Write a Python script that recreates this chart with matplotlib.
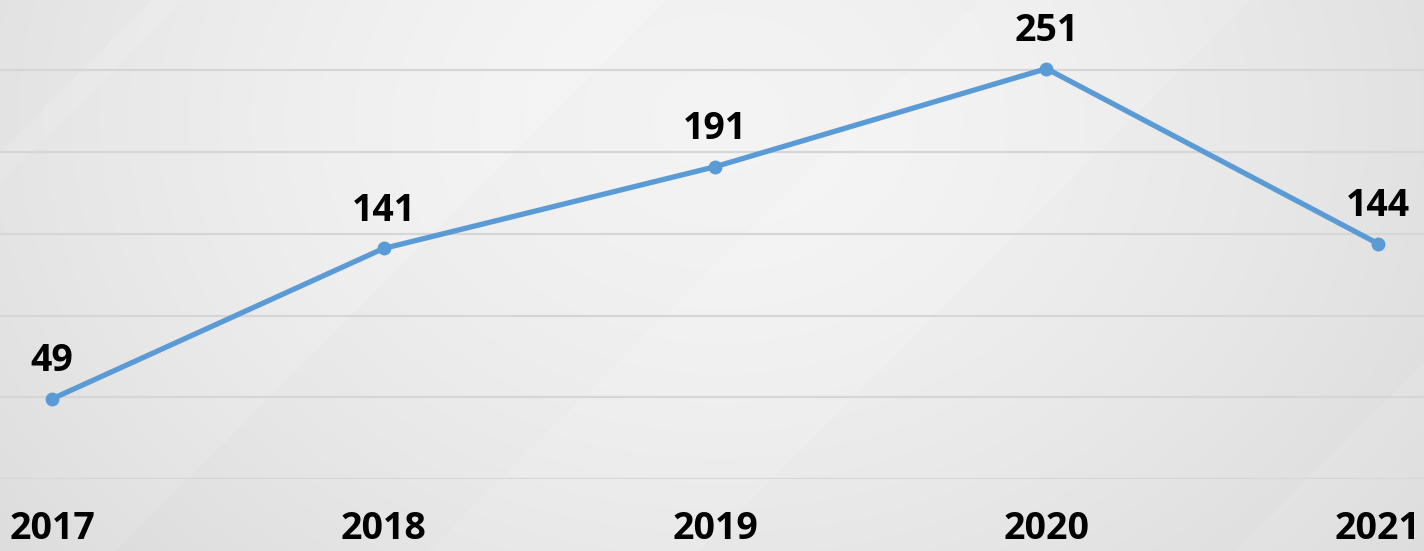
import numpy as np
import matplotlib.pyplot as plt

years = ['2017', '2018', '2019', '2020', '2021']
values = [49, 141, 191, 251, 144]
grid_levels = [0, 50, 100, 150, 200, 250]

W, H = 1424, 551
fig = plt.figure(figsize=(W / 100, H / 100), dpi=100)

# fondo gris con degradado y bandas diagonales
yy, xx = np.mgrid[0:H, 0:W]
r = np.sqrt(((xx - 720) / 900.0) ** 2 + ((yy - 120) / 700.0) ** 2)
fondo = 0.955 - 0.10 * np.clip(r, 0, 1) ** 1.5
d = (xx + yy) / 1.0
banda = 0.012 * (np.sin(d / 260.0) > 0.55) + 0.008 * (np.sin(d / 170.0 + 1.3) > 0.7)
fondo = np.clip(fondo + banda, 0, 1)
bg = fig.add_axes([0, 0, 1, 1], zorder=0)
bg.imshow(np.dstack([fondo, fondo, fondo]), aspect='auto', extent=[0, 1, 0, 1])
bg.axis('off')

ax = fig.add_axes([0, (H - 479) / H, 1, 479 / H], zorder=1)
ax.patch.set_alpha(0)
x = np.arange(len(years))
ax.set_xlim(-0.157, 4.139)
ax.set_ylim(0, 293)

for g in grid_levels:
    ax.axhline(g, color='#d6d6d6', lw=1.6, zorder=1)

ax.plot(x, values, color='#5b9bd5', lw=3.8, marker='o', markersize=9, zorder=3,
        solid_capstyle='round')

for xi, v in zip(x, values):
    ax.annotate(str(v), (xi, v), xytext=(0, 20), textcoords='offset points',
                ha='center', va='baseline', fontsize=27, fontweight='bold',
                family='Open Sans', color='black')

ax.set_xticks(x)
ax.set_xticklabels(years, fontsize=27, fontweight='bold', family='Open Sans')
ax.tick_params(axis='x', length=0, pad=22)
ax.set_yticks([])
for s in ax.spines.values():
    s.set_visible(False)

fig.savefig('out.png', dpi=100)
